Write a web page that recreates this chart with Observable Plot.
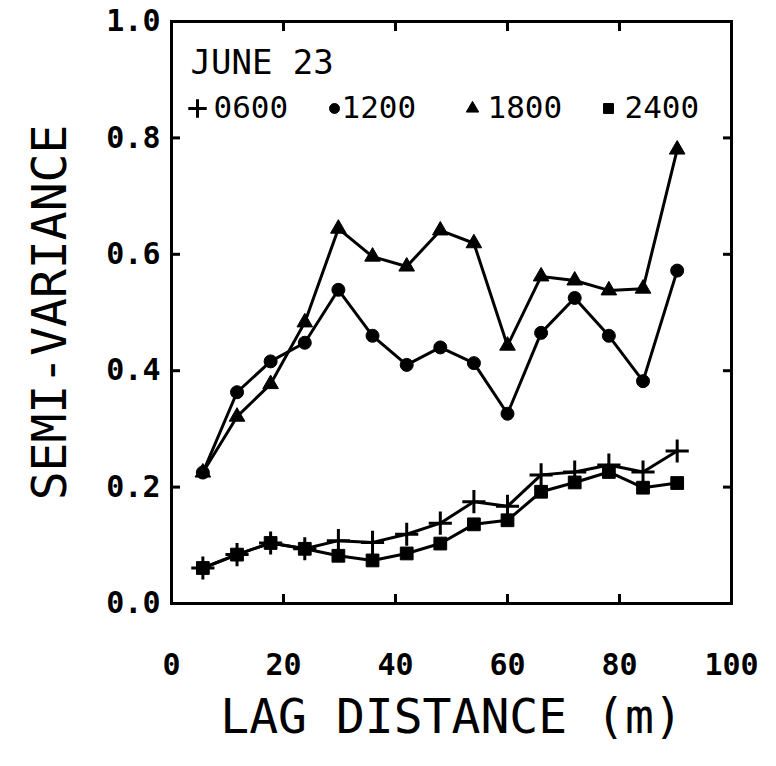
<!DOCTYPE html>
<html><head><meta charset="utf-8">
<script src="https://cdn.jsdelivr.net/npm/d3@7"></script>
<script src="https://cdn.jsdelivr.net/npm/@observablehq/plot@0.6"></script>
<style>
body{margin:0;background:#fff}
</style>
</head><body><div id="chart"></div>
<script>
// Semi-variance versus lag distance, four times of day on June 23
const lags  = [5.6, 11.7, 17.7, 23.8, 29.8, 35.9, 42.0, 48.0, 54.0, 60.0, 66.0, 72.0, 78.1, 84.2, 90.3];
const v0600 = [0.061, 0.084, 0.104, 0.094, 0.108, 0.105, 0.119, 0.138, 0.175, 0.167, 0.221, 0.226, 0.238, 0.226, 0.262];
const v1200 = [0.225, 0.363, 0.416, 0.448, 0.539, 0.460, 0.410, 0.440, 0.413, 0.326, 0.465, 0.525, 0.460, 0.382, 0.572];
const v1800 = [0.225, 0.321, 0.377, 0.483, 0.644, 0.596, 0.579, 0.641, 0.619, 0.443, 0.562, 0.555, 0.538, 0.541, 0.780];
const v2400 = [0.061, 0.084, 0.104, 0.094, 0.082, 0.074, 0.086, 0.103, 0.136, 0.143, 0.192, 0.208, 0.226, 0.199, 0.207];

const seriesNames = ["0600", "1200", "1800", "2400"];
const seriesValues = [v0600, v1200, v1800, v2400];
const xTicks = [0, 20, 40, 60, 80, 100];
const yTicks = [0, 0.2, 0.4, 0.6, 0.8, 1.0];
const title = "JUNE 23";

const rows = seriesNames.flatMap((s, i) =>
  lags.map((lag, j) => ({series: s, lag, value: seriesValues[i][j]})));

const mono = "DejaVu Sans Mono";

// marker styles for each series: symbol, radius on the curves, radius in the key
const markerStyle = {
  "0600": {symbol: "plus", r: 7.5, keyR: 6, stroked: true},
  "1200": {symbol: "circle", r: 6.5, keyR: 5, stroked: false},
  "1800": {symbol: "triangle", r: 5.8, keyR: 4.6, stroked: false},
  "2400": {symbol: "square", r: 7.2, keyR: 5.6, stroked: false}
};
// horizontal offsets of the key entries from the left frame edge
const keyMarkerDx = [26, 163, 301, 437];
const keyTextDx = [42, 170, 316, 453];

function markerOpts(s, r) {
  const m = markerStyle[s];
  return m.stroked
    ? {symbol: m.symbol, r, stroke: "black", strokeWidth: 3, fill: "none"}
    : {symbol: m.symbol, r, fill: "black", stroke: "black", strokeWidth: 1};
}

// inward-pointing tick marks without labels
const tickAxis = (fn, anchor) => fn({
  anchor, ticks: anchor === "left" || anchor === "right" ? yTicks : xTicks,
  tickSize: -9, strokeWidth: 3, tickFormat: () => "", label: null
});

const plot = Plot.plot({
  width: 776,
  height: 766,
  marginTop: 21,
  marginRight: 45,
  marginBottom: 163,
  marginLeft: 171,
  style: {background: "white", color: "black", fontFamily: mono},
  x: {domain: [0, 100]},
  y: {domain: [0, 1]},
  marks: [
    Plot.axisY({anchor: "left", ticks: yTicks, tickSize: 0, tickPadding: 11,
      tickFormat: d3.format(".1f"), fontSize: 30, fontWeight: "bold", fontFamily: mono, label: null}),
    Plot.axisX({anchor: "bottom", ticks: xTicks, tickSize: 0, tickPadding: 50,
      tickFormat: d3.format("d"), fontSize: 30, fontWeight: "bold", fontFamily: mono, label: null}),
    tickAxis(Plot.axisY, "left"),
    tickAxis(Plot.axisY, "right"),
    tickAxis(Plot.axisX, "top"),
    tickAxis(Plot.axisX, "bottom"),
    Plot.frame({stroke: "black", strokeWidth: 3}),
    Plot.line(rows, {x: "lag", y: "value", z: "series", stroke: "black", strokeWidth: 3}),
    ...seriesNames.map(s =>
      Plot.dot(rows.filter(d => d.series === s), {x: "lag", y: "value", ...markerOpts(s, markerStyle[s].r)})),
    // key inside the frame
    Plot.text([title], {text: d => d, frameAnchor: "top-left", dx: 19, dy: 42,
      textAnchor: "start", lineAnchor: "middle", fontSize: 34, fontFamily: mono, fill: "black"}),
    ...seriesNames.map((s, i) =>
      Plot.dot([s], {frameAnchor: "top-left", dx: keyMarkerDx[i], dy: 87, ...markerOpts(s, markerStyle[s].keyR)})),
    ...seriesNames.map((s, i) =>
      Plot.text([s], {text: d => d, frameAnchor: "top-left", dx: keyTextDx[i], dy: 87,
        textAnchor: "start", lineAnchor: "middle", fontSize: 31, fontFamily: mono, fill: "black"})),
    // axis titles
    Plot.text(["SEMI-VARIANCE"], {text: d => d, frameAnchor: "left", dx: -121, rotate: -90,
      textAnchor: "middle", lineAnchor: "middle", fontSize: 48, fontFamily: mono, fill: "black"}),
    Plot.text(["LAG DISTANCE (m)"], {text: d => d, frameAnchor: "bottom", dy: 114,
      textAnchor: "middle", lineAnchor: "middle", fontSize: 48, fontFamily: mono, fill: "black"})
  ]
});

document.getElementById("chart").append(plot);
</script>
</body></html>
